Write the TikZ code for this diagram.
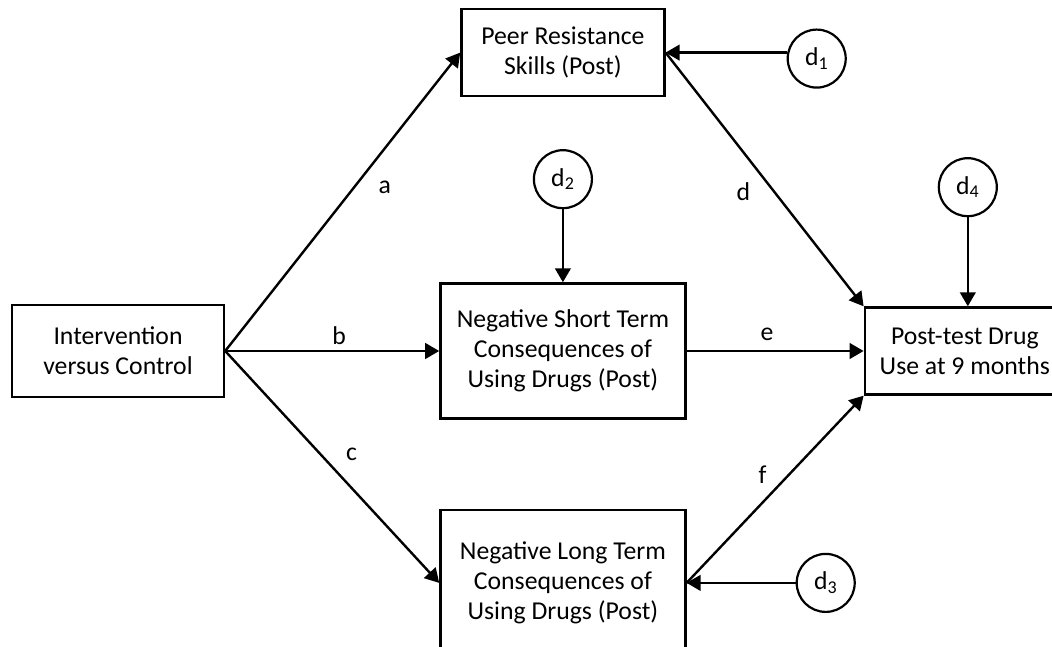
\documentclass[tikz,border=0pt]{standalone}
\usepackage{fontspec}
\setmainfont{Carlito}
\usepackage{tikz}
\usetikzlibrary{
    arrows.meta,
    positioning
}
\tikzset{
    varbox/.style={
        draw,
        line width=0.6mm,
        align=center,
        inner sep=0pt
    }
}
\tikzset{
    disturb/.style={
        draw,
        circle,
        line width=0.55mm,
        minimum size=14.5mm,
        inner sep=0pt
    }
}
\tikzset{
    effect/.style={
        draw=black,
        line width=0.6mm,
        ->
    }
}

\begin{document}
\begin{tikzpicture}[
    x=0.25mm, y=-0.25mm,
    >={Triangle[length=3.5mm,width=3.9mm]},
    font=\fontsize{18.3}{21.5}\selectfont
]
\useasboundingbox (0,0) rectangle (1052,647);
\clip (0,0) rectangle (1052,647);

\node[varbox, minimum width=53mm, minimum height=23mm] (treat) at (118,351)
    {Intervention\\versus Control};

\node[varbox, minimum width=61.25mm, minimum height=33.75mm,
      right=53.5mm of treat] (shortterm)
    {Negative Short Term\\Consequences of\\Using Drugs (Post)};
\node[varbox, minimum width=50.75mm, minimum height=21.75mm,
      above=46.25mm of shortterm] (peer)
    {Peer Resistance\\Skills (Post)};
\node[varbox, minimum width=61.25mm, minimum height=36.5mm,
      below=22.25mm of shortterm] (longterm)
    {Negative Long Term\\Consequences of\\Using Drugs (Post)};
\node[varbox, minimum width=50mm, minimum height=21.75mm,
      right=44.25mm of shortterm] (druguse)
    {Post-test Drug\\Use at 9 months};

\node[disturb, right=30.25mm of peer, yshift=-1.5mm] (d1) {d\textsubscript{1}};
\node[disturb, above=18.25mm of shortterm] (d2) {d\textsubscript{2}};
\node[disturb, right=27.25mm of longterm] (d3) {d\textsubscript{3}};
\node[disturb, above=22.25mm of druguse, xshift=0.75mm] (d4) {d\textsubscript{4}};

\draw[effect] (treat.east) -- (peer.west)
    node[pos=.55, right=4.6mm] {a};
\draw[effect] (treat.east) -- (shortterm.west)
    node[midway, above, xshift=1.75mm] {b};
\draw[effect] (treat.east) -- (longterm.west)
    node[pos=.5, above right=0.2mm and 2mm] {c};
\draw[effect] (peer.east) -- (druguse.north west)
    node[pos=.55, left=4.6mm] {d};
\draw[effect] (shortterm.east) -- (druguse.west)
    node[midway, above=1mm, xshift=-2mm] {e};
\draw[effect] (longterm.east) -- (druguse.south west)
    node[pos=.58, left=4.2mm] {f};

\draw[effect] (d1.west |- peer.east) -- (peer.east);
\draw[effect] (d2) -- (shortterm);
\draw[effect] (d3) -- (longterm);
\draw[effect] (d4) -- (d4 |- druguse.north);

\end{tikzpicture}
\end{document}
